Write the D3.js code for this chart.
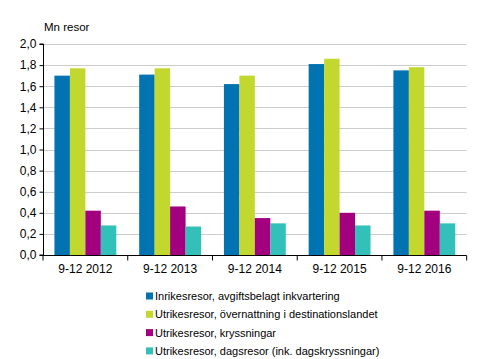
<!DOCTYPE html>
<html><head><meta charset="utf-8">
<script src="https://cdn.jsdelivr.net/npm/d3@7"></script>
<style>body{margin:0;background:#fff}text{font-family:"Liberation Sans",Arial,sans-serif;fill:#000}</style>
</head><body>
<svg id="c" width="491" height="359"></svg>
<script>
const categories = ["9-12 2012","9-12 2013","9-12 2014","9-12 2015","9-12 2016"];
const seriesNames = ["Inrikesresor, avgiftsbelagt inkvartering","Utrikesresor, övernattning i destinationslandet","Utrikesresor, kryssningar","Utrikesresor, dagsresor (ink. dagskryssningar)"];
const inrikes = [1.70,1.71,1.62,1.81,1.75];
const overnattning = [1.77,1.77,1.70,1.86,1.78];
const kryssningar = [0.42,0.46,0.35,0.40,0.42];
const dagsresor = [0.28,0.27,0.30,0.28,0.30];
const colors = ["#0073b0","#c2d82e","#a3007f","#33c0b8"];
const yTicks = [0,0.2,0.4,0.6,0.8,1.0,1.2,1.4,1.6,1.8,2.0];
const series = [inrikes,overnattning,kryssningar,dagsresor];

const svg = d3.select("#c");
const x0 = d3.scaleBand().domain(categories).range([43,466.7]).paddingInner(0.27).paddingOuter(0.135);
const x1 = d3.scaleBand().domain(d3.range(4)).range([0,x0.bandwidth()]);
const y = d3.scaleLinear().domain([0,2]).range([255,44]);

svg.append("g").selectAll("line").data(yTicks.slice(1)).join("line")
  .attr("x1",43).attr("x2",466.7).attr("y1",d=>Math.round(y(d))+0.5).attr("y2",d=>Math.round(y(d))+0.5)
  .attr("stroke","#cccccc").attr("stroke-width",1);

categories.forEach((c,i)=>{
  svg.append("g").selectAll("rect").data(series.map((s,k)=>({k,v:s[i]}))).join("rect")
    .attr("x",d=>x0(c)+x1(d.k)).attr("width",x1.bandwidth())
    .attr("y",d=>y(d.v)).attr("height",d=>y(0)-y(d.v)).attr("fill",d=>colors[d.k]);
});

const ya = svg.append("g").attr("transform","translate(43.5,0)")
  .call(d3.axisLeft(y).tickValues(yTicks).tickSize(4).tickFormat(d=>d3.format(".1f")(d).replace(".",",")));
ya.select(".domain").attr("d","M-4,"+y(2)+"H0V"+y(0)+"H-4").attr("stroke","#000");
ya.selectAll("text").attr("font-size","12px").attr("x",-7).style("font-family","Liberation Sans, Arial, sans-serif");

const xa = svg.append("g").attr("transform","translate(0,255.5)");
xa.append("line").attr("x1",43).attr("x2",466.7).attr("stroke","#000");
const edges = categories.map(c=>x0(c)-x0.step()*x0.paddingInner()/2).concat([466.7]);
xa.selectAll(".t").data(edges).join("line").attr("x1",d=>d).attr("x2",d=>d).attr("y1",0).attr("y2",5).attr("stroke","#000");
xa.selectAll("text").data(categories).join("text").attr("x",d=>x0(d)+x0.bandwidth()/2).attr("y",17)
  .attr("text-anchor","middle").attr("font-size","12px").text(d=>d);

svg.append("text").attr("x",44).attr("y",31).attr("font-size","11.5px").text("Mn resor");

const lg = svg.append("g");
seriesNames.forEach((n,i)=>{
  const yy = 296 + i*18.3;
  lg.append("rect").attr("x",146).attr("y",yy-3.5).attr("width",7).attr("height",7).attr("fill",colors[i]);
  lg.append("text").attr("x",155).attr("y",yy+4).attr("font-size","11px").text(n);
});
</script>
</body></html>
